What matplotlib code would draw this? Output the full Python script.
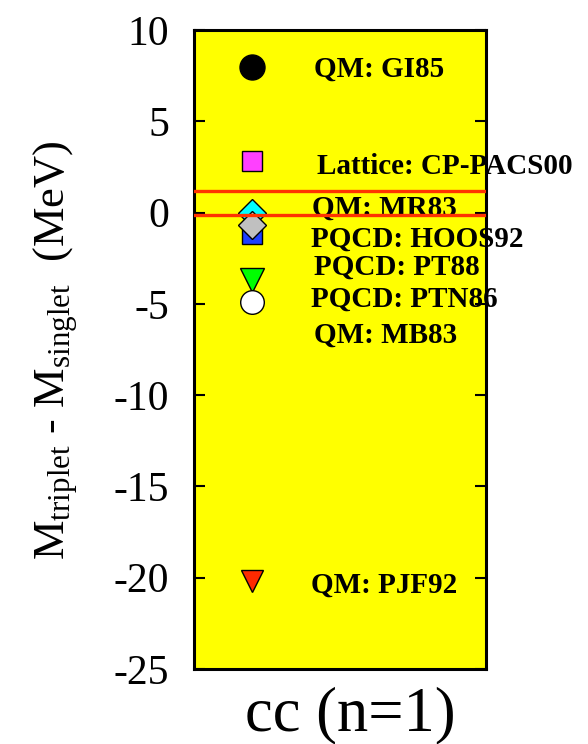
import matplotlib
matplotlib.use("Agg")
import matplotlib.pyplot as plt

plt.rcParams['font.family'] = ['Liberation Serif', 'DejaVu Serif']
plt.rcParams['mathtext.fontset'] = 'custom'
plt.rcParams['mathtext.rm'] = 'Liberation Serif'
plt.rcParams['mathtext.it'] = 'Liberation Serif:italic'

# Hyperfine splittings M(triplet) - M(singlet) for cc (n=1), in MeV
labels = ["QM: GI85", "Lattice: CP-PACS00", "QM: MR83", "PQCD: HOOS92",
          "PQCD: PT88", "PQCD: PTN86", "QM: MB83", "QM: PJF92"]
values = [8.0, 2.8, 0.0, -1.2, -0.7, -3.7, -4.9, -20.2]
markers = ["o", "s", "D", "s", "D", "v", "o", "v"]
colors = ["#000000", "#FF40FF", "#00FFFF", "#1E40FF", "#C0C0C0",
          "#00FF00", "#FFFFFF", "#FF2A00"]
# experimental band edges
band = [1.2, -0.15]

yticks = [-25, -20, -15, -10, -5, 0, 5, 10]

# layout: marker sizes, text baselines and offsets
msizes = [18, 15, 14, 15, 14, 17, 17, 16]
label_y = [7.42, 2.10, -0.18, -1.86, -3.41, -5.15, -7.14, -20.8]
label_x = [0.41, 0.42, 0.405, 0.40, 0.41, 0.40, 0.41, 0.40]

fig = plt.figure(figsize=(5.88, 7.44), dpi=100)
ax = fig.add_axes([194 / 588, 1 - 669 / 744, 292 / 588, 639 / 744])
ax.set_facecolor("#FFFF00")
ax.set_xlim(0, 1)
ax.set_ylim(-25, 10)

x0 = 0.2
for i in range(len(values)):
    ax.plot([x0], [values[i]], marker=markers[i], markersize=msizes[i],
            markerfacecolor=colors[i], markeredgecolor="black",
            markeredgewidth=1.0, linestyle="none", zorder=3 + i * 0.01)
    ax.text(label_x[i], label_y[i], labels[i], fontsize=21,
            fontweight="bold", ha="left", va="baseline", clip_on=False,
            zorder=4)

for b in band:
    ax.axhline(b, color="#FF3300", linewidth=2.4, zorder=6)

ax.set_xticks([])
ax.set_yticks(yticks)
ax.set_yticklabels([str(t) for t in yticks])
ax.tick_params(axis="y", direction="in", length=8, width=1.5,
               left=True, right=True, labelsize=30, pad=18)
for s in ax.spines.values():
    s.set_linewidth(2.2)
    s.set_zorder(5)

fig.text(350 / 588, 1 - 730 / 744, "cc (n=1)", fontsize=45,
         ha="center", va="baseline")
fig.text(65 / 588, 1 - 350 / 744,
         r"M$_{\mathrm{triplet}}$ - M$_{\mathrm{singlet}}$  (MeV)",
         fontsize=32, rotation=90, ha="center", va="baseline",
         rotation_mode="anchor")

fig.savefig("out.png", dpi=100)
